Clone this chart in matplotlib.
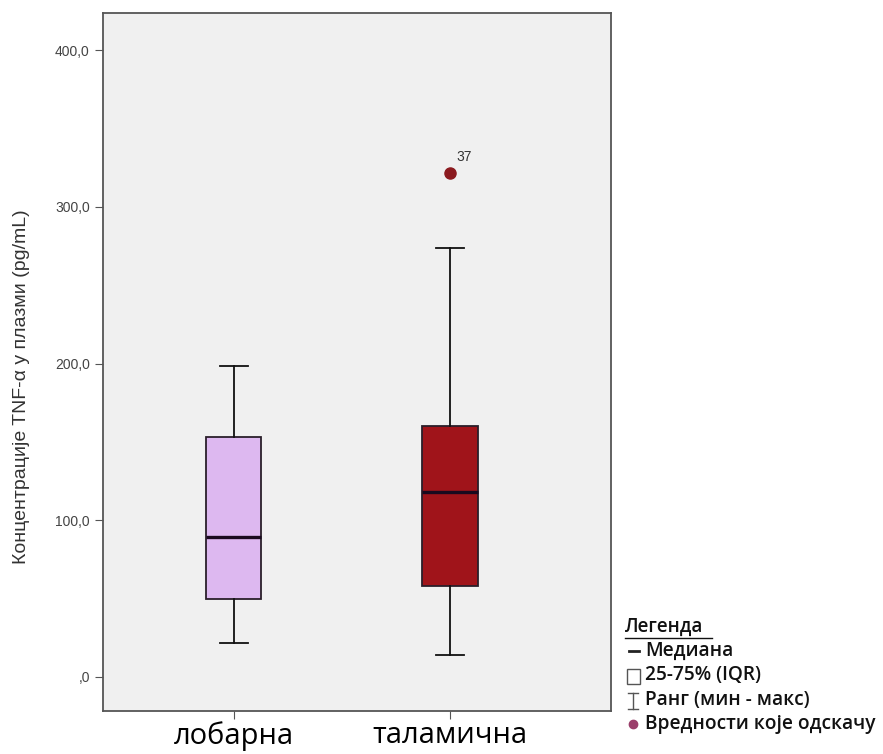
import matplotlib
matplotlib.use("Agg")
import matplotlib.pyplot as plt
from matplotlib.ticker import FuncFormatter

# quartile summary per group (pg/mL)
groups = ["лобарна", "таламична"]
whisker_lo = [21.7, 14.0]
q1 = [49.8, 58.0]
medians = [89.3, 118.0]
q3 = [153.0, 160.0]
whisker_hi = [198.5, 273.8]
outliers = [[], [321.6]]
outlier_ids = [[], ["37"]]
box_colors = ["#DDB8F0", "#A0141A"]

legend_title = "Легенда"
legend_items = ["Медиана", "25-75% (IQR)", "Ранг (мин - макс)", "Вредности које одскачу"]


def fmt(v, pos):
    s = "%.1f" % v
    s = s.replace(".", ",")
    if s.startswith("0,"):
        s = s[1:]
    return s


fig = plt.figure(figsize=(8.83, 7.54), dpi=100)
ax = fig.add_axes([103 / 883, 1 - 711 / 754, 508 / 883, 698 / 754])
ax.set_facecolor("#F0F0F0")

stats = []
for i in range(len(groups)):
    stats.append({"whislo": whisker_lo[i], "q1": q1[i], "med": medians[i],
                  "q3": q3[i], "whishi": whisker_hi[i], "fliers": outliers[i]})

bp = ax.bxp(stats, positions=[1, 2], widths=0.255, patch_artist=True,
            showfliers=True,
            medianprops=dict(color="#1a0a1f", linewidth=2.4),
            whiskerprops=dict(color="#111111", linewidth=1.3),
            capprops=dict(color="#111111", linewidth=1.3),
            boxprops=dict(edgecolor="#2a1f2a", linewidth=1.3),
            flierprops=dict(marker="o", markerfacecolor="#8B1A1F",
                            markeredgecolor="#8B1A1F", markersize=8))
for patch, c in zip(bp["boxes"], box_colors):
    patch.set_facecolor(c)
for caps in bp["caps"]:
    x = caps.get_xdata()
    mid = (x[0] + x[1]) / 2
    caps.set_xdata([mid - 0.065, mid + 0.065])

# label the outliers with their case numbers
for i, ids in enumerate(outlier_ids):
    for v, lab in zip(outliers[i], ids):
        ax.text(i + 1 + 0.03, v + 6, lab, fontsize=10, color="#333333",
                family="Liberation Sans", va="bottom")

ax.set_xlim(0.394, 2.745)
ax.set_ylim(-21.7, 423.7)
ax.set_yticks([0, 100, 200, 300, 400])
ax.yaxis.set_major_formatter(FuncFormatter(fmt))
ax.set_xticks([1, 2])
ax.set_xticklabels(groups, fontsize=21, family="Open Sans")
for lab in ax.get_yticklabels():
    lab.set_family("Liberation Sans")
    lab.set_fontsize(10)
    lab.set_color("#444444")
ax.tick_params(axis="y", length=6, color="#555555")
ax.tick_params(axis="x", length=6, color="#555555", pad=1)
for sp in ax.spines.values():
    sp.set_color("#555555")
    sp.set_linewidth(1.3)

ax.set_ylabel("Концентрације TNF-α у плазми (pg/mL)", fontsize=14,
              family="Liberation Sans", color="#333333")
ax.yaxis.set_label_coords(-73 / 508, (711 - 387) / 698)

# legend block in the lower right corner
lx = 625 / 883
fig.text(lx, 1 - 627 / 754, legend_title, fontsize=13.5, family="Open Sans",
         fontweight="semibold", va="center", color="#111111")
fig.add_artist(plt.Line2D([lx, 712 / 883], [1 - 638 / 754] * 2, color="#111111", lw=1))
ys = [651, 675, 700, 724]
for y, txt in zip(ys, legend_items):
    fig.text(645 / 883, 1 - y / 754, txt, fontsize=13.8, family="Open Sans",
             fontweight="semibold", va="center", color="#111111")
# legend symbols
fig.add_artist(plt.Line2D([629 / 883, 639 / 883], [1 - 651 / 754] * 2, color="#222222", lw=2))
fig.add_artist(plt.Rectangle((627 / 883, 1 - 684 / 754), 13 / 883, 15 / 754,
                             fill=False, edgecolor="#555555", lw=1))
fig.add_artist(plt.Line2D([633 / 883] * 2, [1 - 693 / 754, 1 - 709 / 754], color="#555555", lw=1))
fig.add_artist(plt.Line2D([628 / 883, 638 / 883], [1 - 693 / 754] * 2, color="#555555", lw=1))
fig.add_artist(plt.Line2D([628 / 883, 638 / 883], [1 - 709 / 754] * 2, color="#555555", lw=1))
fig.add_artist(plt.Line2D([633 / 883], [1 - 724 / 754], marker="o", color="#9A3E6A",
                          markersize=6, linestyle="none"))

fig.savefig("out.png", dpi=100)
